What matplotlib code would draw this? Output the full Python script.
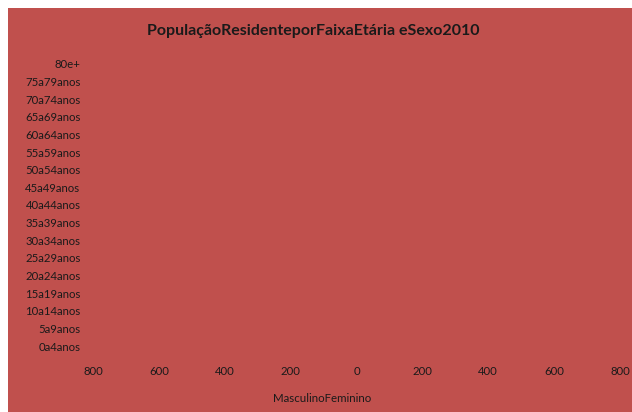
import numpy as np
import matplotlib.pyplot as plt

# faixas etarias (de baixo para cima)
faixas = ['0a4anos', '5a9anos', '10a14anos', '15a19anos', '20a24anos', '25a29anos',
          '30a34anos', '35a39anos', '40a44anos', '45a49anos', '50a54anos', '55a59anos',
          '60a64anos', '65a69anos', '70a74anos', '75a79anos', '80e+']
masculino = [0] * 17   # grafico sem dados
feminino = [0] * 17
xticks = [-800, -600, -400, -200, 0, 200, 400, 600, 800]

W, H = 632, 412
bg = '#C0504D'
plt.rcParams['font.family'] = ['Lato', 'DejaVu Sans']

fig = plt.figure(figsize=(W / 100, H / 100), dpi=100)
fig.patch.set_facecolor('white')
# area vermelha do grafico
fig.patches.append(plt.Rectangle((8 / W, 0), 1 - 8 / W, 1 - 8 / H, transform=fig.transFigure,
                                 facecolor=bg, edgecolor='none', zorder=-1))

ax = fig.add_axes([93 / W, 1 - 355 / H, (620 - 93) / W, 300 / H])
ax.set_zorder(2)
ax.set_facecolor('none')
y = np.arange(len(faixas))
ax.barh(y, [-v for v in masculino], color='#4F81BD')
ax.barh(y, feminino, color='#9BBB59')
ax.set_xlim(-800, 800)
ax.set_ylim(-0.5, len(faixas) - 0.5)
ax.set_yticks(y)
ax.set_yticklabels(faixas, fontsize=8.2, color='#1a1a1a')
ax.set_xticks(xticks)
ax.set_xticklabels([str(abs(v)) for v in xticks], fontsize=8.2, color='#1a1a1a')
ax.tick_params(length=0, pad=8, axis='x')
ax.tick_params(length=0, pad=9, axis='y')
for s in ax.spines.values():
    s.set_visible(False)

fig.text(313 / W, 1 - 31 / H, 'PopulaçãoResidenteporFaixaEtária eSexo2010',
         ha='center', va='center', fontsize=11.5, fontweight='bold', color='#1a1a1a')
fig.text(322 / W, 1 - 398 / H, 'MasculinoFeminino', ha='center', va='center',
         fontsize=8.3, color='#1a1a1a')

fig.savefig('out.png', dpi=100, facecolor=fig.get_facecolor())
